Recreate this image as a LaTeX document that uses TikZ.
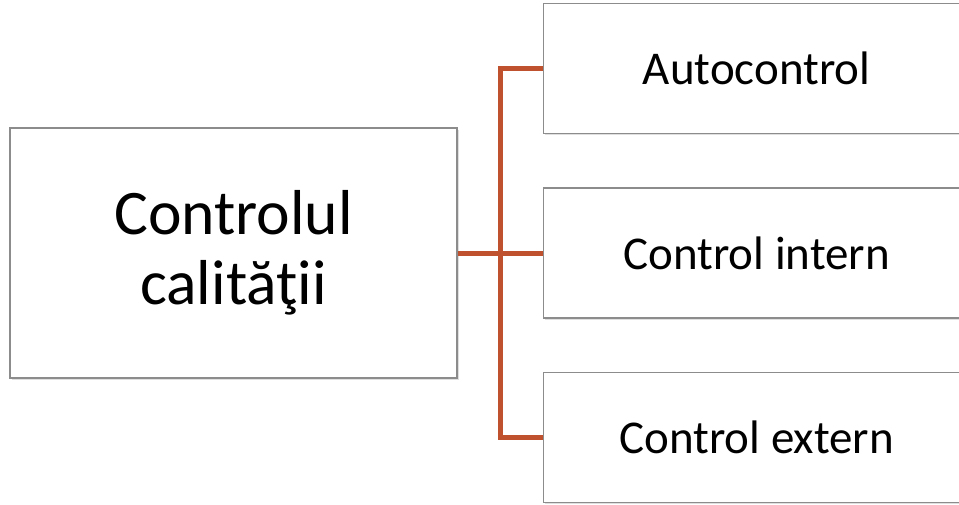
\documentclass[tikz,border=0pt]{standalone}
\usepackage{fontspec}
\setmainfont{Carlito}
\usetikzlibrary{positioning,shadows}
\definecolor{linkred}{HTML}{C0512F}
\definecolor{boxgray}{HTML}{8C8C8C}

\begin{document}
\begin{tikzpicture}[x=1pt,y=-1pt,node distance=53pt and 85pt,
        main node/.style={rectangle,draw=boxgray,line width=1.2pt,fill=white,
          drop shadow={shadow xshift=1.5pt,shadow yshift=-1.5pt,opacity=0.25},
          inner sep=0pt,align=center},
        big node/.style={main node,minimum width=447pt,minimum height=250pt,font=\fontsize{63.5}{70}\selectfont},
        small node/.style={main node,minimum width=427pt,minimum height=130pt,font=\fontsize{47}{56}\selectfont},
        link/.style={draw=linkred,line width=5pt}]
    \useasboundingbox (0,0) rectangle (959,504);
    \clip (0,0) rectangle (959,504);

    \node[big node] (1) at (233.5,253) {Controlul\\calităţii};
    \node[small node] (3) [right=of 1] {Control intern};
    \node[small node] (2) [above=of 3] {Autocontrol};
    \node[small node] (4) [below=of 3] {Control extern};

    \path[link]
    (1) edge (3)
    (2.west) -- ++(-42,0) |- (4.west)
        ;

\end{tikzpicture}
\end{document}
